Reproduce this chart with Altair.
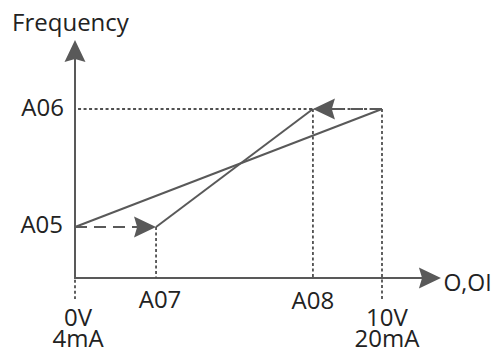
import altair as alt
import pandas as pd

# ---- data (schematic values) ----
A05 = 3.02      # frequency at start
A06 = 10.0      # frequency at end
A07 = 2.64      # start input
A08 = 7.75      # end input
X_MAX = 10.0    # 10V / 20mA
X_AXIS_END = 11.92
Y_AXIS_END = 14.08

seg_kind = ["axis", "axis", "solid", "solid",
            "dot", "dot", "dot", "dot", "dot",
            "dash", "dash"]
seg_x  = [0.0, 0.0, 0.0, A07,   0.1, A07, A08, X_MAX, 0.0,   0.0, X_MAX]
seg_y  = [0.0, 0.0, A05, A05,   A06, A05, A06, A06, -0.1,   A05, A06]
seg_x2 = [0.0, X_AXIS_END - 0.4, X_MAX, A08,   X_MAX, A07, A08, X_MAX, 0.0,   A07 - 0.6, A08 + 0.6]
seg_y2 = [Y_AXIS_END - 0.6, 0.0, A06, A06,   A06, 0.0, 0.0, -1.3, -1.25,   A05, A06]

head_x = [0.0, X_AXIS_END, A07, A08]
head_y = [Y_AXIS_END, 0.0, A05, A06]
head_angle = [0, 90, 90, 270]

lab_text = ["Frequency", "A06", "A05", "A07", "A08", "0V", "4mA", "10V", "20mA", "O,OI"]
lab_x = [-2.05, -0.36, -0.39, A07 + 0.13, A08, 0.1, 0.1, X_MAX + 0.16, X_MAX + 0.16, 12.0]
lab_y = [14.62, A06 - 0.41, A05 - 0.36, -1.80, -1.83, -2.84, -4.1, -2.84, -4.1, -0.77]
lab_align = ["left", "right", "right", "center", "center", "center", "center", "center", "center", "left"]
lab_size = [24, 24, 24, 24, 24, 24, 24, 24, 24, 23]

segs = pd.DataFrame({"kind": seg_kind, "x": seg_x, "y": seg_y, "x2": seg_x2, "y2": seg_y2})
heads = pd.DataFrame({"x": head_x, "y": head_y, "angle": head_angle})
labels = pd.DataFrame({"text": lab_text, "x": lab_x, "y": lab_y, "align": lab_align, "size": lab_size})

W, H = 486, 341
xs = alt.Scale(domain=[-2.1824, 13.6482], nice=False, zero=False)
ys = alt.Scale(domain=[-4.2012, 15.9763], nice=False, zero=False)
X = lambda f="x": alt.X(f"{f}:Q", scale=xs, axis=None)
Y = lambda f="y": alt.Y(f"{f}:Q", scale=ys, axis=None)

LINE = "#595959"
base = alt.Chart(segs)

axis_l = base.transform_filter(alt.datum.kind == "axis").mark_rule(
    color=LINE, strokeWidth=2, strokeCap="square").encode(x=X(), y=Y(), x2="x2:Q", y2="y2:Q")
solid_l = base.transform_filter(alt.datum.kind == "solid").mark_rule(
    color=LINE, strokeWidth=2).encode(x=X(), y=Y(), x2="x2:Q", y2="y2:Q")
dot_l = base.transform_filter(alt.datum.kind == "dot").mark_rule(
    color="#505050", strokeWidth=1.8, strokeDash=[3, 2.5]).encode(x=X(), y=Y(), x2="x2:Q", y2="y2:Q")
dash_l = base.transform_filter(alt.datum.kind == "dash").mark_rule(
    color=LINE, strokeWidth=2, strokeDash=[12, 7]).encode(x=X(), y=Y(), x2="x2:Q", y2="y2:Q")

head_l = alt.Chart(heads).mark_point(
    shape="M0,0L1,2.1L0,1.8L-1,2.1Z", filled=True, fill=LINE, opacity=1, size=440
).encode(x=X(), y=Y(), angle=alt.Angle("angle:Q", scale=None))

text_layers = []
for al in ["left", "right", "center"]:
    text_layers.append(
        alt.Chart(labels).transform_filter(alt.datum.align == al).mark_text(
            font="Open Sans", color="#222222", align=al, baseline="alphabetic"
        ).encode(x=X(), y=Y(), text="text:N", size=alt.Size("size:Q", scale=None))
    )

chart = alt.layer(axis_l, solid_l, dot_l, dash_l, head_l, *text_layers).properties(
    width=W, height=H, padding=0, autosize=alt.AutoSizeParams(type="none")
).configure_view(stroke=None)

chart.save("out.html", embed_options={"renderer": "svg", "actions": False})
